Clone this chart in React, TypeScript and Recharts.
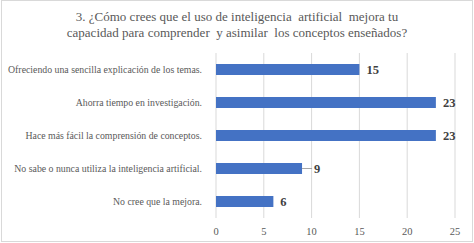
import React from "react";
import { BarChart, Bar, XAxis, YAxis, CartesianGrid, LabelList } from "recharts";

const categories = [
  "Ofreciendo una sencilla explicación de los temas.",
  "Ahorra tiempo en investigación.",
  "Hace más fácil la comprensión de conceptos.",
  "No sabe o nunca utiliza la inteligencia artificial.",
  "No cree que la mejora.",
];
const values = [15, 23, 23, 9, 6];
const xTicks = [0, 5, 10, 15, 20, 25];
const titleLines = [
  "3. ¿Cómo crees que el uso de inteligencia  artificial  mejora tu",
  "capacidad para comprender  y asimilar  los conceptos enseñados?",
];

const data = categories.map((c, i) => ({ name: c, value: values[i] }));

const FONT = '"Liberation Serif", "Times New Roman", "Liberation Sans", serif';

const ValueLabel = (props: any) => {
  const { x, y, width, height, value } = props;
  const endX = x + width;
  const cy = y + height / 2;
  const leader = value === 9;
  const tx = leader ? endX + 12 : endX + 7;
  return (
    <g>
      {leader && (
        <line x1={endX} y1={cy} x2={endX + 10} y2={cy} stroke="#a6a6a6" strokeWidth={1} />
      )}
      <text
        x={tx}
        y={cy}
        dy={4.5}
        style={{ fontFamily: FONT }}
        fontSize={12.5}
        fontWeight="bold"
        fill="#404040"
      >
        {value}
      </text>
    </g>
  );
};

const CategoryTick = (props: any) => {
  const { x, y, payload } = props;
  return (
    <text
      x={x}
      y={y}
      dy={3.5}
      textAnchor="end"
      style={{ fontFamily: FONT }}
      fontSize={9.8}
      fill="#595959"
    >
      {payload.value}
    </text>
  );
};

const NumberTick = (props: any) => {
  const { x, y, payload } = props;
  return (
    <text
      x={x}
      y={y}
      dy={7}
      textAnchor="middle"
      style={{ fontFamily: FONT }}
      fontSize={10.5}
      fill="#595959"
    >
      {payload.value}
    </text>
  );
};

export default function App() {
  return (
    <div
      style={{
        position: "absolute",
        left: 0,
        top: 0,
        width: 474,
        height: 243,
        background: "#fff",
      }}
    >
      <div
        style={{
          position: "absolute",
          left: 1,
          top: 0,
          width: 470,
          height: 240,
          border: "1px solid #d9d9d9",
        }}
      />
      <div
        style={{
          position: "absolute",
          left: 0,
          top: 9,
          width: 474,
          textAlign: "center",
          fontFamily: FONT,
          fontSize: 13,
          lineHeight: "16px",
          color: "#595959",
          whiteSpace: "pre",
        }}
      >
        {titleLines[0]}
        <br />
        {titleLines[1]}
      </div>
      <div style={{ position: "absolute", left: 0, top: 0 }}>
        <BarChart
          width={474}
          height={243}
          data={data}
          layout="vertical"
          margin={{ top: 53, right: 19, bottom: 5, left: 0 }}
        >
          <CartesianGrid horizontal={false} stroke="#d9d9d9" />
          <XAxis
            type="number"
            domain={[0, 25]}
            ticks={xTicks}
            axisLine={false}
            tickLine={false}
            height={20}
            tick={NumberTick}
            tickMargin={4}
          />
          <YAxis
            type="category"
            dataKey="name"
            width={216}
            axisLine={false}
            tickLine={false}
            tickMargin={8}
            tick={CategoryTick}
          />
          <Bar dataKey="value" fill="#4472C4" isAnimationActive={false} barSize={11}>
            <LabelList dataKey="value" content={ValueLabel} />
          </Bar>
        </BarChart>
      </div>
    </div>
  );
}
